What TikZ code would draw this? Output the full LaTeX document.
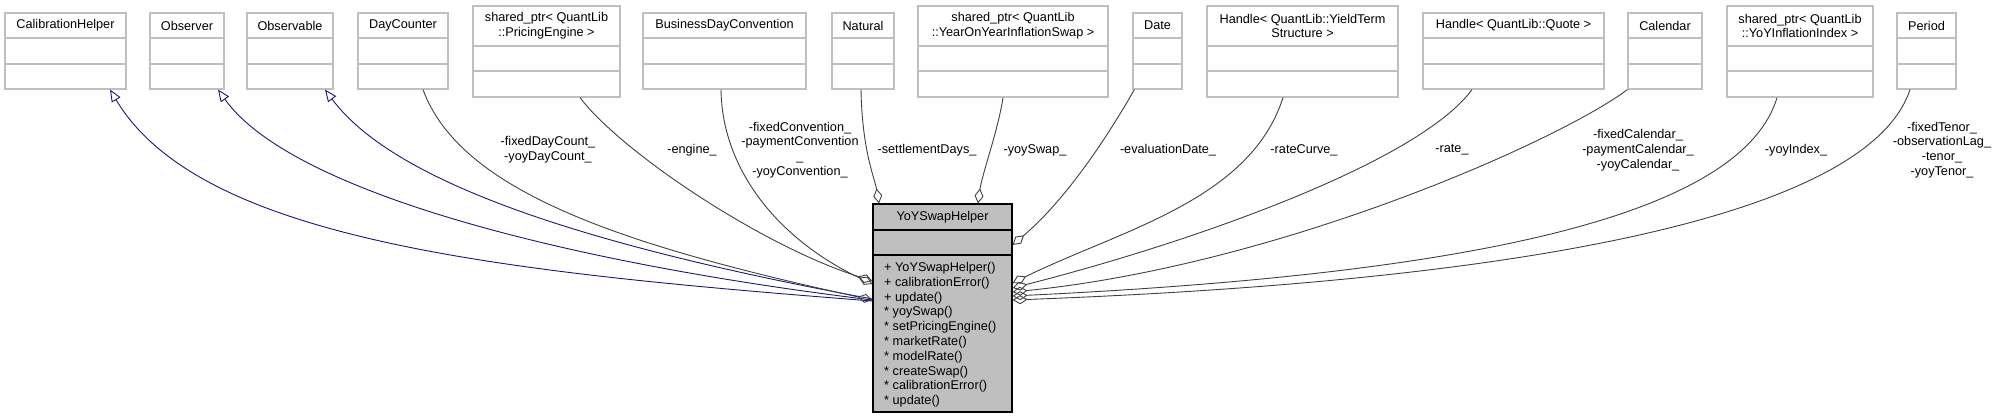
\documentclass[tikz,border=0pt]{standalone}
\usepackage{fontspec}
\setmainfont{Liberation Sans}
\usetikzlibrary{arrows.meta}
\definecolor{midblue}{RGB}{25,25,112}
\definecolor{edgegray}{RGB}{64,64,64}

\begin{document}
\fontsize{12.7}{14.8}\selectfont
\begin{tikzpicture}[x=1pt,y=-1pt,
	cls/.style={draw=black!25, line width=1.2pt, inner sep=0},
	sep/.style={draw=black!25, line width=1.2pt},
	uses/.style={draw=edgegray, line width=0.9pt, -{Diamond[open,length=15pt,width=9pt]}},
	isa/.style={draw=midblue, line width=0.9pt, {Triangle[open,length=12pt,width=10pt]}-},
	lbl/.style={align=center, inner sep=0}]
		\useasboundingbox (0,0) rectangle (1993,419);
		\foreach \n/\x/\w/\txt in {calib/5/121/CalibrationHelper, obsr/150/74/Observer, obsb/247/86/Observable, dayc/358/90/DayCounter, bdc/643/163/BusinessDayConvention, natural/832/62/Natural, date/1133/49/Date, quote/1423/181/{Handle< QuantLib::Quote >}, cal/1628/74/Calendar, period/1897/59/Period}
		{
			\node [cls, minimum width=\w, minimum height=76] (\n) at (\x+\w/2,51) {};
			\node at (\x+\w/2,25.5) {\txt};
			\draw [sep] (\x,38) -- +(\w,0) (\x,64) -- +(\w,0);
		}
		\foreach \n/\x/\w/\txt in {engine/473/147/{shared\_ptr< QuantLib\\::PricingEngine >}, swap/918/190/{shared\_ptr< QuantLib\\::YearOnYearInflationSwap >}, curve/1207/191/{Handle< QuantLib::YieldTerm\\Structure >}, index/1727/146/{shared\_ptr< QuantLib\\::YoYInflationIndex >}}
		{
			\node [cls, minimum width=\w, minimum height=91] (\n) at (\x+\w/2,51.5) {};
			\node [align=center] at (\x+\w/2,26) {\txt};
			\draw [sep] (\x,46) -- +(\w,0) (\x,71) -- +(\w,0);
		}

		\node [draw=black, line width=1.2pt, fill=black!25, inner sep=0, minimum width=139, minimum height=208] (helper) at (942.5,308) {};
		\node at (942.5,217) {YoYSwapHelper};
		\draw [line width=1.2pt] (873,230) -- +(139,0) (873,255) -- +(139,0);
		\node [anchor=north west, align=left, inner sep=0] (methods) at (884,262) {+ YoYSwapHelper()\\+ calibrationError()\\+ update()\\* yoySwap()\\* setPricingEngine()\\* marketRate()\\* modelRate()\\* createSwap()\\* calibrationError()\\* update()};

		\draw [isa] ([xshift=44.5]calib.south) .. controls +(90,151) and +(-373,-29) .. ([yshift=7]helper.west);
		\draw [isa] ([xshift=31]obsr.south) .. controls +(72,101) and +(-313,-38) .. ([yshift=8]helper.west);
		\draw [isa] ([xshift=35]obsb.south) .. controls +(75,101) and +(-253,-47) .. ([yshift=9]helper.west);

		\draw [uses] ([xshift=20]dayc.south) .. controls +(37,101) and +(-253,-55) .. ([yshift=8]helper.west);
		\draw [uses] ([xshift=33.5]engine.south) .. controls +(40,53) and +(-113,-36) .. ([yshift=27]helper.west);
		\draw [uses] ([xshift=-3.5]bdc.south) .. controls +(1,81) and +(-93,-44) .. ([yshift=24]helper.west);
		\draw [uses] ([xshift=-2]natural.south) .. controls +(1,61) and +(-4,-24) .. ([xshift=-63.5]helper.north);
		\draw [uses] ([xshift=-10]swap.south) .. controls +(-5,33) and +(4,-29) .. ([xshift=35.5]helper.north);
		\draw [uses] ([xshift=2]date.south west) .. controls +(-35,61) and +(48,-41) .. ([yshift=63]helper.east);
		\draw [uses] ([xshift=-19.5]curve.south) .. controls +(-33,103) and +(108,-53) .. ([yshift=25]helper.east);
		\draw [uses] ([xshift=-41.5]quote.south) .. controls +(-52,71) and +(188,-48) .. ([yshift=20]helper.east);
		\draw [uses] (cal.south west) .. controls +(-68,51) and +(268,-27) .. ([yshift=16]helper.east);
		\draw [uses] ([xshift=-23]index.south) .. controls +(-37,123) and +(438,-21) .. ([yshift=12]helper.east);
		\draw [uses] ([xshift=-16.5]period.south) .. controls +(-40,121) and +(538,-20) .. ([yshift=8]helper.east);

		\node [lbl] (l_daycount) at (548,150) {-fixedDayCount\_\\-yoyDayCount\_};
		\node [lbl] (l_engine) at (692,150) {-engine\_};
		\node [lbl] (l_convention) at (800,150) {-fixedConvention\_\\-paymentConvention\\\_\\-yoyConvention\_};
		\node [lbl] (l_settlement) at (927,150) {-settlementDays\_};
		\node [lbl] (l_swap) at (1035,150) {-yoySwap\_};
		\node [lbl] (l_date) at (1168,150) {-evaluationDate\_};
		\node [lbl] (l_curve) at (1304,150) {-rateCurve\_};
		\node [lbl] (l_rate) at (1452,150) {-rate\_};
		\node [lbl] (l_calendar) at (1638,150) {-fixedCalendar\_\\-paymentCalendar\_\\-yoyCalendar\_};
		\node [lbl] (l_index) at (1796,150) {-yoyIndex\_};
		\node [lbl] (l_tenor) at (1942,150) {-fixedTenor\_\\-observationLag\_\\-tenor\_\\-yoyTenor\_};
	\end{tikzpicture}
\end{document}
